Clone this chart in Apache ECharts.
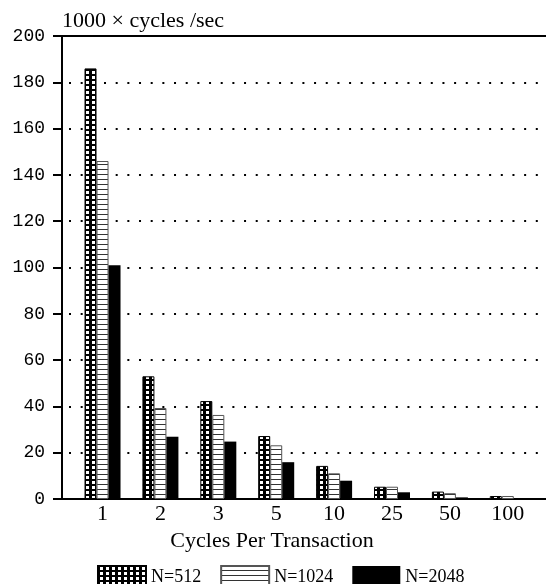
<!DOCTYPE html>
<html>
<head>
<meta charset="utf-8">
<script src="https://cdn.jsdelivr.net/npm/echarts@6/dist/echarts.min.js"></script>
<style>
  html, body { margin: 0; padding: 0; background: #fff; }
  #chart { width: 546px; height: 584px; }
</style>
</head>
<body>
<div id="chart"></div>
<script>
// cycles per transaction (x categories)
const categories = ['1', '2', '3', '5', '10', '25', '50', '100']
// 1000 x cycles/sec for each N
const n512 = [186, 53, 42.3, 27.2, 14.3, 5.3, 3.2, 1.3]
const n1024 = [146, 39.3, 36.3, 23.2, 11.1, 5.3, 2.5, 1.3]
const n2048 = [101, 26.9, 24.8, 15.9, 7.9, 2.9, 0.7, 0.3]
const yTicks = { min: 0, max: 200, interval: 20 }

// small canvas tiles used as fill patterns
function makeTile(w, h, draw) {
    const c = document.createElement('canvas')
    c.width = w
    c.height = h
    draw(c.getContext('2d'))
    return c
}
const checker = makeTile(6, 5, ctx => {
    ctx.fillStyle = '#000'
    ctx.fillRect(0, 0, 6, 5)
    ctx.fillStyle = '#fff'
    ctx.fillRect(2, 1, 3, 3)
})
const stripes = makeTile(4, 5, ctx => {
    ctx.fillStyle = '#fff'
    ctx.fillRect(0, 0, 4, 5)
    ctx.fillStyle = '#333'
    ctx.fillRect(0, 4, 4, 1)
})

const toPoints = arr => arr.map((v, i) => [i, v])
const xRange = { min: -0.7, max: 7.66 }
const serif = 'Liberation Serif'

const chart = echarts.init(document.getElementById('chart'))
chart.setOption({
    animation: false,
    backgroundColor: '#fff',
    grid: {
        left: 62,
        right: 0,
        top: 36,
        bottom: 85
    },
    legend: {
        left: 92,
        top: 560,
        icon: 'rect',
        itemWidth: 48,
        itemHeight: 22,
        itemGap: 19,
        textStyle: { fontFamily: serif, fontSize: 18, color: '#000' },
        data: ['N=512', 'N=1024', 'N=2048']
    },
    xAxis: [
        {
            type: 'value',
            min: xRange.min,
            max: xRange.max,
            name: 'Cycles Per Transaction',
            nameLocation: 'middle',
            nameGap: 25,
            nameTextStyle: {
                fontFamily: serif,
                fontSize: 22,
                color: '#000',
                padding: [0, 64, 0, 0]
            },
            axisLine: { onZero: false, lineStyle: { color: '#000', width: 2 } },
            axisTick: { show: false },
            splitLine: { show: false },
            axisLabel: {
                customValues: categories.map((c, i) => i),
                formatter: v => categories[Math.round(v)],
                fontFamily: serif,
                fontSize: 22,
                color: '#000',
                margin: 4
            }
        },
        {
            // top frame line
            type: 'value',
            position: 'top',
            min: xRange.min,
            max: xRange.max,
            axisLine: { onZero: false, lineStyle: { color: '#000', width: 2 } },
            axisTick: { show: false },
            axisLabel: { show: false },
            splitLine: { show: false }
        }
    ],
    yAxis: {
        type: 'value',
        min: yTicks.min,
        max: yTicks.max,
        interval: yTicks.interval,
        name: '1000 \u00d7 cycles /sec',
        nameLocation: 'end',
        nameGap: 4,
        nameTextStyle: { fontFamily: serif, fontSize: 22, color: '#000', align: 'left' },
        axisLine: { show: true, onZero: false, lineStyle: { color: '#000', width: 2 } },
        axisTick: { show: true, inside: false, length: 9, lineStyle: { color: '#000', width: 2 } },
        axisLabel: {
            fontFamily: 'Liberation Mono',
            fontSize: 18,
            color: '#000',
            margin: 17
        },
        splitLine: {
            show: true,
            lineStyle: { color: '#000', width: 2, type: [2, 9.67], dashOffset: 4.67 }
        }
    },
    series: [
        {
            name: 'N=512',
            type: 'bar',
            barWidth: 12,
            barGap: 0,
            data: toPoints(n512),
            itemStyle: {
                color: { image: checker, repeat: 'repeat' },
                borderColor: '#000',
                borderWidth: 1
            }
        },
        {
            name: 'N=1024',
            type: 'bar',
            barWidth: 12,
            barGap: 0,
            data: toPoints(n1024),
            itemStyle: {
                color: { image: stripes, repeat: 'repeat' },
                borderColor: '#555',
                borderWidth: 1
            }
        },
        {
            name: 'N=2048',
            type: 'bar',
            barWidth: 12,
            barGap: 0,
            data: toPoints(n2048),
            itemStyle: { color: '#000' }
        }
    ]
})
</script>
</body>
</html>
